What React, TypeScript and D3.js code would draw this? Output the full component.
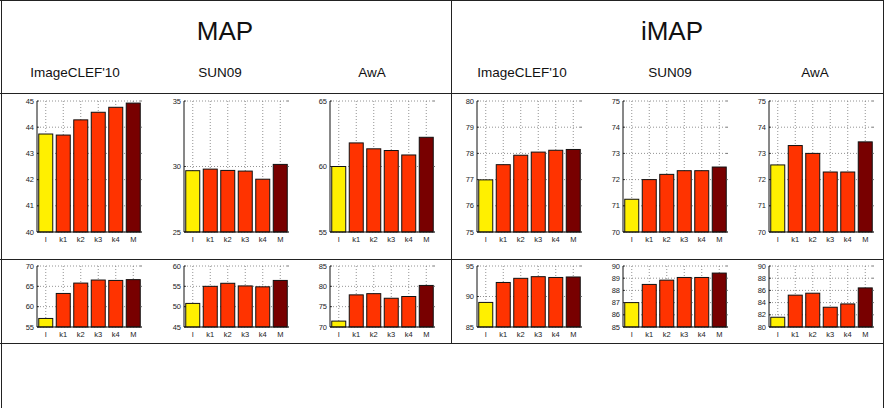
import * as d3 from 'd3'

const metrics = ['MAP', 'iMAP']
const datasets = ["ImageCLEF'10", 'SUN09', 'AwA']
const categories = ['I', 'k1', 'k2', 'k3', 'k4', 'M']

// top row
const mapClefTop = [43.74, 43.7, 44.28, 44.57, 44.76, 44.92]
const mapSunTop = [29.68, 29.8, 29.7, 29.65, 29.03, 30.16]
const mapAwaTop = [60.0, 61.8, 61.35, 61.22, 60.88, 62.23]
const imapClefTop = [76.99, 77.57, 77.93, 78.05, 78.12, 78.15]
const imapSunTop = [71.25, 72.0, 72.2, 72.34, 72.34, 72.48]
const imapAwaTop = [72.56, 73.3, 73.0, 72.29, 72.29, 73.44]

// bottom row
const mapClefBottom = [57.1, 63.25, 65.8, 66.55, 66.45, 66.65]
const mapSunBottom = [50.8, 55.0, 55.75, 55.1, 54.88, 56.45]
const mapAwaBottom = [71.45, 77.9, 78.2, 77.07, 77.5, 80.22]
const imapClefBottom = [89.03, 92.3, 92.98, 93.25, 93.12, 93.2]
const imapSunBottom = [87.0, 88.49, 88.84, 89.06, 89.06, 89.42]
const imapAwaBottom = [81.6, 85.22, 85.54, 83.24, 83.78, 86.41]

const ticksTop = [
  [40, 41, 42, 43, 44, 45],
  [25, 30, 35],
  [55, 60, 65],
  [75, 76, 77, 78, 79, 80],
  [70, 71, 72, 73, 74, 75],
  [70, 71, 72, 73, 74, 75],
]
const ticksBottom = [
  [55, 60, 65, 70],
  [45, 50, 55, 60],
  [70, 75, 80, 85],
  [85, 90, 95],
  [85, 86, 87, 88, 89, 90],
  [80, 82, 84, 86, 88, 90],
]

const valuesTop = [mapClefTop, mapSunTop, mapAwaTop, imapClefTop, imapSunTop, imapAwaTop]
const valuesBottom = [mapClefBottom, mapSunBottom, mapAwaBottom, imapClefBottom, imapSunBottom, imapAwaBottom]

const barColors = ['#fff000', '#ff3300', '#ff3300', '#ff3300', '#ff3300', '#780000']

const width = 884
const height = 408
const font = 'Liberation Sans, Arial, Helvetica, sans-serif'
const axisLeft = [37, 184, 330, 477, 623, 769]
const headerCenters = [75, 220, 372, 522, 670, 815]
const plotWidth = 105
const rows = [
  { top: 101, bottom: 232, values: valuesTop, ticks: ticksTop },
  { top: 266, bottom: 327, values: valuesBottom, ticks: ticksBottom },
]

function Panel({ x0, top, bottom, values, ticks }: { x0: number; top: number; bottom: number; values: number[]; ticks: number[] }) {
  const x = d3.scaleBand<string>().domain(categories).range([x0, x0 + plotWidth]).paddingInner(0.2).paddingOuter(0.1)
  const y = d3.scaleLinear().domain([ticks[0], ticks[ticks.length - 1]]).range([bottom, top])
  const right = x0 + plotWidth

  return (
    <g>
      {ticks.map((tick) => (
        <line key={`gy${tick}`} x1={x0} x2={right} y1={y(tick)} y2={y(tick)} stroke="#777" strokeWidth="0.8" strokeDasharray="1 2" />
      ))}
      {categories.map((c) => {
        const cx = (x(c) ?? 0) + x.bandwidth() / 2
        return <line key={`gx${c}`} x1={cx} x2={cx} y1={top} y2={bottom} stroke="#777" strokeWidth="0.8" strokeDasharray="1 2" />
      })}
      {values.map((v, i) => (
        <rect
          key={categories[i]}
          x={x(categories[i])}
          y={y(v)}
          width={x.bandwidth()}
          height={bottom - y(v)}
          fill={barColors[i]}
          stroke="#111"
          strokeWidth="1"
        />
      ))}
      <line x1={x0} x2={x0} y1={top} y2={bottom} stroke="#111" strokeWidth="1" />
      <line x1={x0} x2={right} y1={bottom} y2={bottom} stroke="#111" strokeWidth="1" />
      {ticks.map((tick) => (
        <g key={`t${tick}`}>
          <line x1={x0} x2={x0 + 2} y1={y(tick)} y2={y(tick)} stroke="#111" strokeWidth="0.8" />
          <line x1={right - 2} x2={right} y1={y(tick)} y2={y(tick)} stroke="#555" strokeWidth="0.8" />
          <text x={x0 - 3} y={y(tick) + 2.5} textAnchor="end" fontSize="7.5" fill="#222" fontFamily={font}>
            {tick}
          </text>
        </g>
      ))}
      {categories.map((c) => (
        <text key={`l${c}`} x={(x(c) ?? 0) + x.bandwidth() / 2} y={bottom + 10} textAnchor="middle" fontSize="7.5" fill="#222" fontFamily={font}>
          {c}
        </text>
      ))}
    </g>
  )
}

export default function App() {
  const halfX = 451
  return (
    <>
      <style>{`body{margin:0}`}</style>
      <svg width={width} height={height} style={{ display: 'block', background: '#fff' }}>
        {metrics.map((m, i) => (
          <text key={m} x={i === 0 ? 225 : 672} y={40} textAnchor="middle" fontSize="26" fill="#111" fontFamily={font}>
            {m}
          </text>
        ))}
        {metrics.map((m, mi) =>
          datasets.map((d, di) => (
            <text
              key={`${m}${d}`}
              x={headerCenters[mi * 3 + di]}
              y={77}
              textAnchor="middle"
              fontSize="13.5"
              fill="#111"
              fontFamily={font}
            >
              {d}
            </text>
          )),
        )}

        {rows.map((row, ri) =>
          axisLeft.map((x0, pi) => (
            <Panel key={`${ri}-${pi}`} x0={x0} top={row.top} bottom={row.bottom} values={row.values[pi]} ticks={row.ticks[pi]} />
          )),
        )}

        <g stroke="#222" strokeWidth="1">
          <line x1={0} x2={width} y1={0.5} y2={0.5} />
          <line x1={0} x2={width} y1={93.5} y2={93.5} />
          <line x1={0} x2={width} y1={259.5} y2={259.5} />
          <line x1={0} x2={width} y1={343.5} y2={343.5} />
          <line x1={1.5} x2={1.5} y1={0} y2={height} />
          <line x1={883.5} x2={883.5} y1={0} y2={height} />
          <line x1={halfX + 0.5} x2={halfX + 0.5} y1={0} y2={343.5} />
        </g>
      </svg>
    </>
  )
}
